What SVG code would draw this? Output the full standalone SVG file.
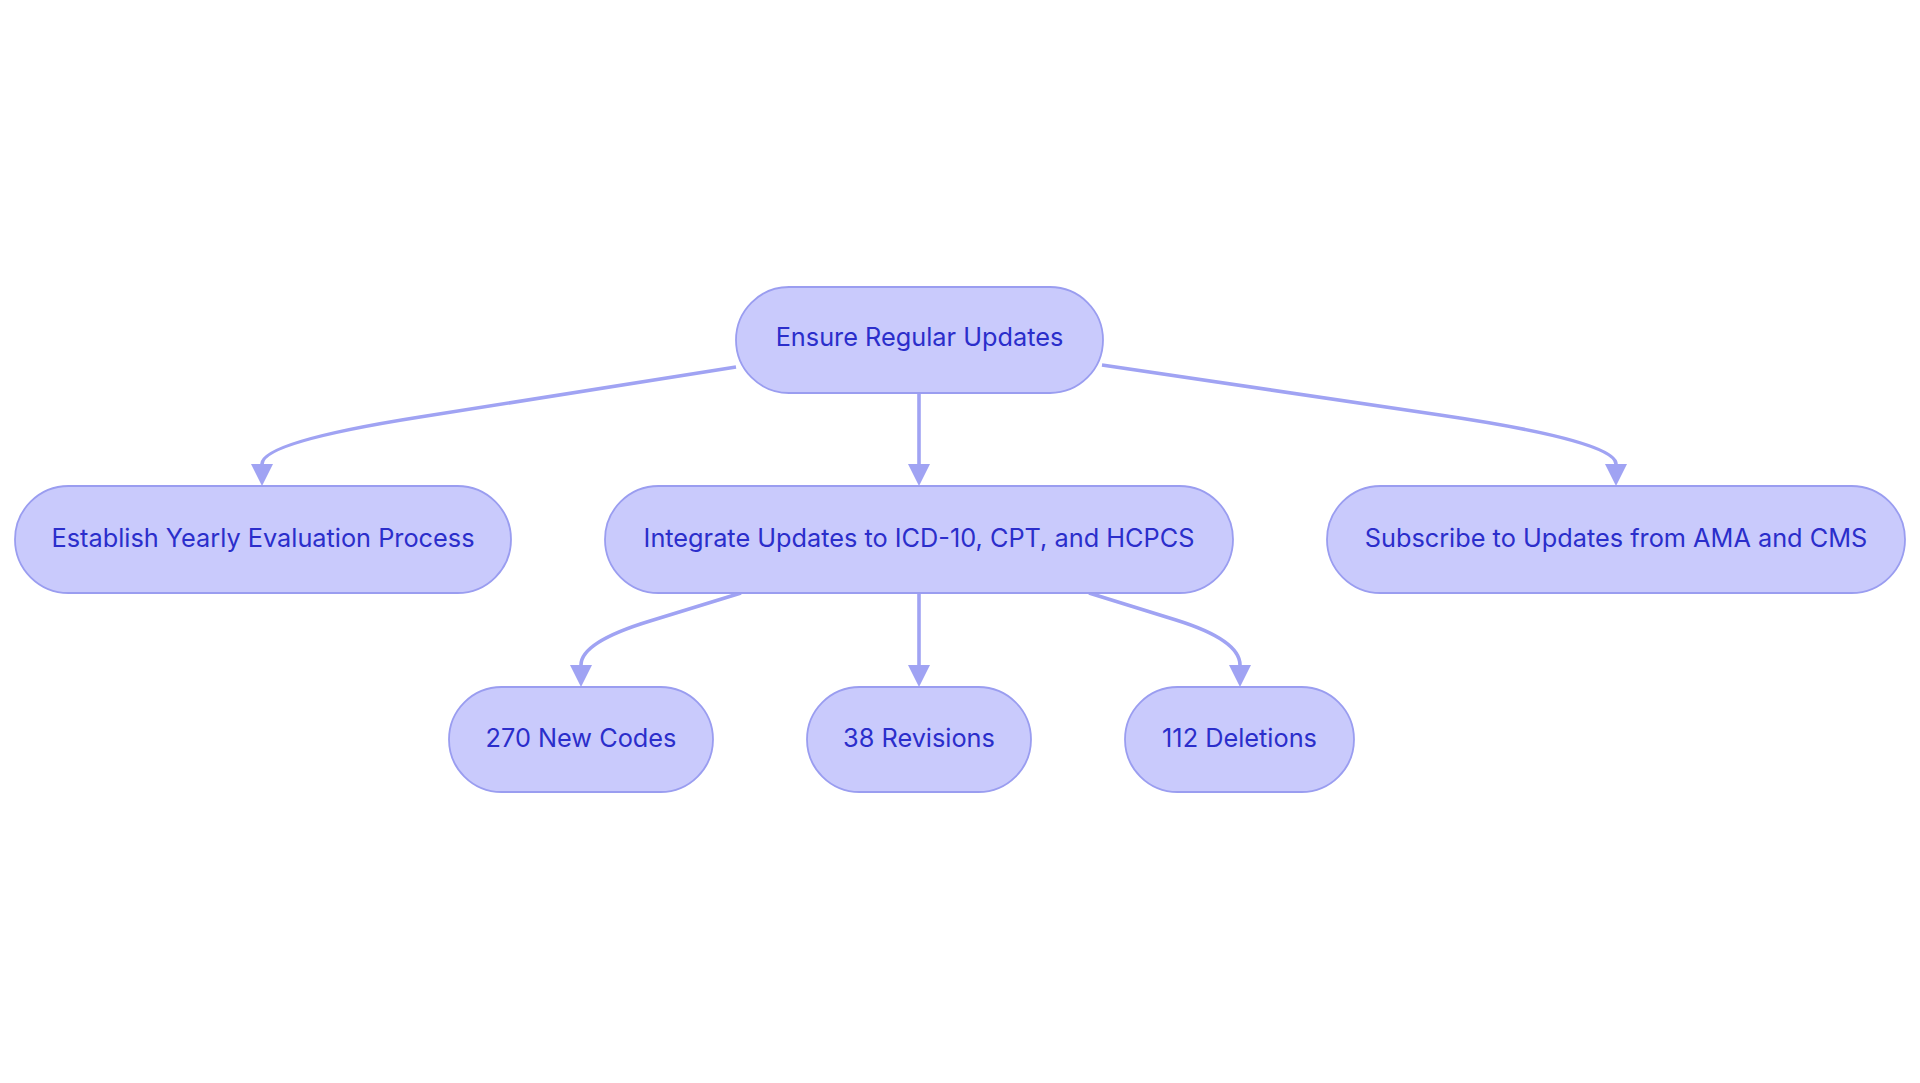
<svg xmlns="http://www.w3.org/2000/svg" width="1920" height="1083" viewBox="0 0 1920 1083">
<style>
.node rect{fill:#c9cafc;stroke:#9a9df0;stroke-width:1.8}
.node text{font-family:Inter,"Noto Sans","Liberation Sans",sans-serif;font-size:25.3px;fill:#2b2ecb;text-anchor:middle}
.edge{fill:none;stroke:#a0a3f3;stroke-width:3.6}
</style>
<defs>
<marker id="arr" viewBox="0 0 10 10" refX="0" refY="5" markerUnits="userSpaceOnUse" markerWidth="22" markerHeight="22" orient="auto">
<path d="M0,0 L10,5 L0,10 z" fill="#a0a3f3"/>
</marker>
</defs>
<rect width="1920" height="1083" fill="#ffffff"/>
<g id="connectors">
<path class="edge" d="M736,367 L420,417 Q262,442 262,464" marker-end="url(#arr)"/>
<path class="edge" d="M919,393 L919,464" marker-end="url(#arr)"/>
<path class="edge" d="M1102,365 L1440,415 Q1616,441 1616,464" marker-end="url(#arr)"/>
<path class="edge" d="M741,593 L650,621 Q581,642 581,665" marker-end="url(#arr)"/>
<path class="edge" d="M919,593 L919,665" marker-end="url(#arr)"/>
<path class="edge" d="M1089,593 L1176,620 Q1240,640 1240,665" marker-end="url(#arr)"/>
</g>
<g id="n-ensure" class="node"><rect x="736" y="287" width="367" height="106" rx="53"/><text x="919.5" y="345.7">Ensure Regular Updates</text></g>
<g id="n-establish" class="node"><rect x="15" y="486" width="496" height="107" rx="53.5"/><text x="263" y="546.6">Establish Yearly Evaluation Process</text></g>
<g id="n-integrate" class="node"><rect x="605" y="486" width="628" height="107" rx="53.5"/><text x="919" y="546.6">Integrate Updates to ICD-10, CPT, and HCPCS</text></g>
<g id="n-subscribe" class="node"><rect x="1327" y="486" width="578" height="107" rx="53.5"/><text x="1616" y="546.6">Subscribe to Updates from AMA and CMS</text></g>
<g id="n-new" class="node"><rect x="449" y="687" width="264" height="105" rx="52.5"/><text x="581" y="747.4">270 New Codes</text></g>
<g id="n-rev" class="node"><rect x="807" y="687" width="224" height="105" rx="52.5"/><text x="919" y="747.4">38 Revisions</text></g>
<g id="n-del" class="node"><rect x="1125" y="687" width="229" height="105" rx="52.5"/><text x="1239.5" y="747.4">112 Deletions</text></g>
</svg>
